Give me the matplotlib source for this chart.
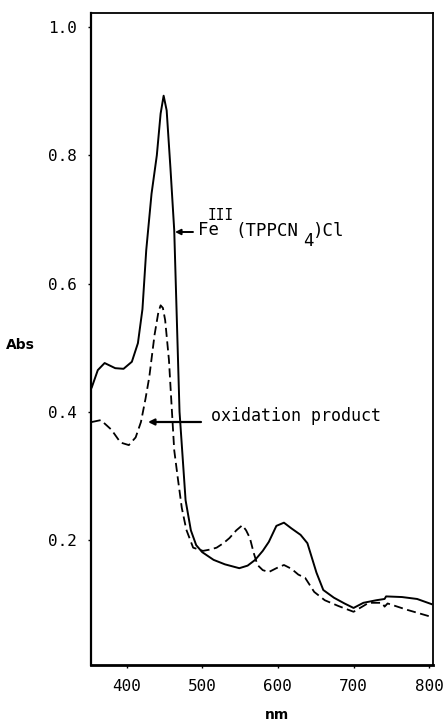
import matplotlib
matplotlib.use("Agg")
import matplotlib.pyplot as plt
import numpy as np

# Fe(III)(TPPCN4)Cl spectrum (solid)
nm_fe = [354, 362, 371, 385, 396, 407, 415, 421, 426, 433, 440, 445, 449, 453,
         458, 463, 470, 478, 485, 492, 500, 515, 530, 549, 560, 570, 580, 588,
         598, 608, 618, 630, 639, 645, 651, 660, 674, 688, 700, 713, 730, 741,
         743, 764, 784, 803]
abs_fe = [0.438, 0.465, 0.476, 0.468, 0.467, 0.478, 0.507, 0.56, 0.652, 0.74,
          0.80, 0.865, 0.893, 0.87, 0.78, 0.683, 0.40, 0.262, 0.215, 0.192,
          0.181, 0.169, 0.162, 0.156, 0.160, 0.169, 0.183, 0.197, 0.222, 0.227,
          0.218, 0.208, 0.195, 0.172, 0.149, 0.122, 0.110, 0.101, 0.094, 0.102,
          0.106, 0.108, 0.112, 0.111, 0.108, 0.100]

# oxidation product (dashed)
nm_ox = [354, 366, 380, 392, 403, 412, 419, 425, 430, 437, 442, 445, 448, 451,
         456, 460, 463, 468, 473, 479, 488, 501, 510, 519, 528, 536, 545, 553,
         558, 563, 568, 573, 580, 588, 598, 608, 618, 627, 636, 648, 662, 680,
         700, 710, 720, 738, 741, 745, 771, 803]
abs_ox = [0.384, 0.387, 0.372, 0.352, 0.348, 0.36, 0.384, 0.42, 0.454, 0.52,
          0.555, 0.566, 0.562, 0.543, 0.481, 0.40, 0.34, 0.294, 0.25, 0.216,
          0.188, 0.183, 0.185, 0.188, 0.195, 0.203, 0.215, 0.223, 0.215, 0.203,
          0.18, 0.161, 0.153, 0.150, 0.156, 0.161, 0.155, 0.146, 0.141, 0.119,
          0.106, 0.097, 0.088, 0.095, 0.102, 0.102, 0.096, 0.101, 0.091, 0.080]

x_ticks = [400, 500, 600, 700, 800]
y_ticks = [0.2, 0.4, 0.6, 0.8, 1.0]

W, H = 446, 724
fig = plt.figure(figsize=(W / 100, H / 100), dpi=100)
ax = fig.add_axes([91 / W, 1 - 665 / H, 342 / W, 652 / H])

ax.plot(nm_fe, abs_fe, color="black", lw=1.4)
ax.plot(nm_ox, abs_ox, color="black", lw=1.3, linestyle=(0, (5, 2.5)))

ax.set_xlim(353, 805)
ax.set_ylim(0.005, 1.022)
ax.set_xticks(x_ticks)
ax.set_yticks(y_ticks)
ax.set_xticklabels([str(v) for v in x_ticks])
ax.set_yticklabels([f"{v:.1f}" for v in y_ticks])

mono = "DejaVu Sans Mono"
ax.tick_params(axis="both", length=2, width=1, labelsize=11.5)
ax.tick_params(axis="y", pad=8)
ax.tick_params(axis="x", pad=8)
for lab in ax.get_xticklabels() + ax.get_yticklabels():
    lab.set_fontfamily(mono)

ax.spines["left"].set_linewidth(1.6)
ax.spines["bottom"].set_linewidth(2.0)
ax.spines["top"].set_linewidth(1.3)
ax.spines["right"].set_linewidth(1.3)


def fx(px):
    return (px - 91) / 342


def fy(py):
    return (665 - py) / 652


# Fe annotation
ax.annotate("", xy=(fx(175), fy(232)), xytext=(fx(193), fy(232)),
            xycoords="axes fraction", textcoords="axes fraction",
            arrowprops=dict(arrowstyle="-|>", color="black", lw=1.4,
                            mutation_scale=8, shrinkA=0, shrinkB=0))
pieces = [("Fe", 198, 230, 12.5), ("III", 208, 215, 10.5),
          ("(TPPCN", 235, 231, 12.5), ("4", 303, 241, 12.5),
          (")Cl", 313, 231, 12.5)]
for txt, px, py, fs in pieces:
    ax.text(fx(px), fy(py), txt, transform=ax.transAxes, fontsize=fs,
            family=mono, ha="left", va="center")

# oxidation product annotation
ax.annotate("", xy=(fx(148), fy(422)), xytext=(fx(201), fy(422)),
            xycoords="axes fraction", textcoords="axes fraction",
            arrowprops=dict(arrowstyle="-|>", color="black", lw=1.6,
                            mutation_scale=9, shrinkA=0, shrinkB=0))
ax.text(fx(211), fy(416), "oxidation product", transform=ax.transAxes,
        fontsize=12, family=mono, ha="left", va="center")

fig.text(20 / W, 1 - 345 / H, "Abs", fontsize=10, fontweight="bold",
         ha="center", va="center")
fig.text(277 / W, 1 - 722 / H, "nm", fontsize=10, fontweight="bold",
         ha="center", va="bottom")

fig.savefig("out.png", dpi=100)
